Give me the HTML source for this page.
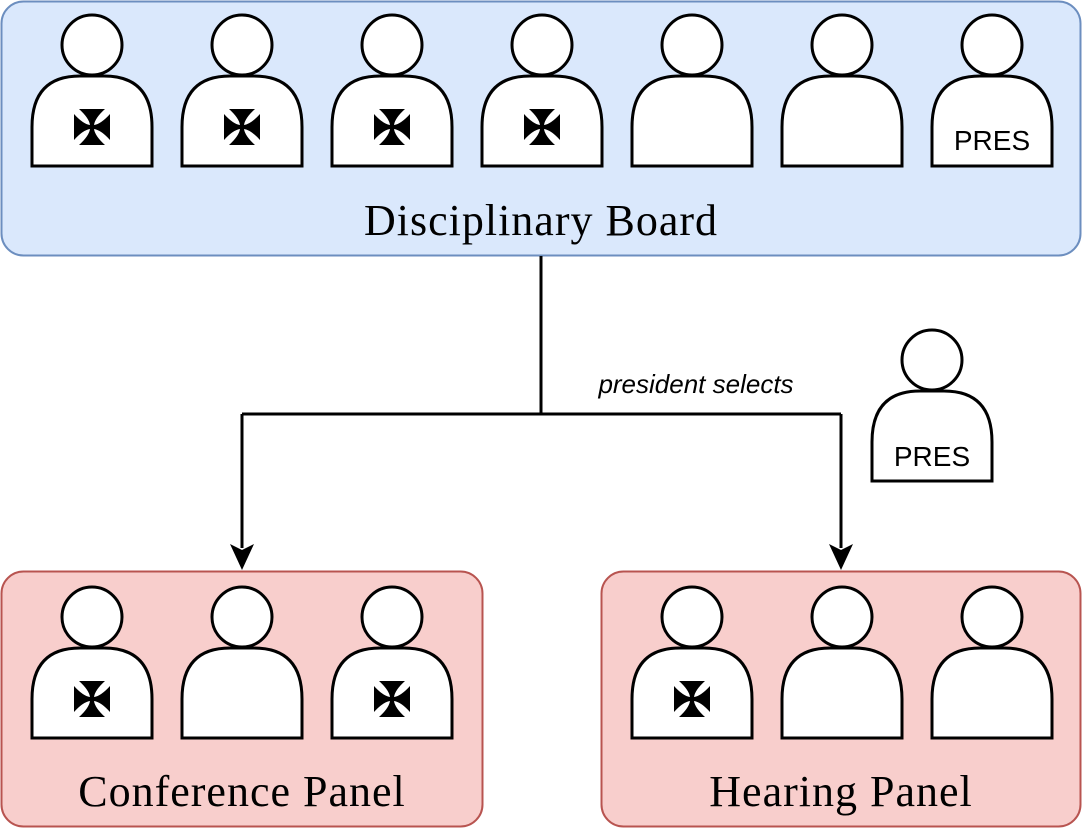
<!DOCTYPE html>
<html><head><meta charset="utf-8"><style>
html,body{margin:0;padding:0;background:#fff;}
svg{display:block;}
</style></head><body>
<svg width="1083" height="828" viewBox="0 0 1083 828" xmlns="http://www.w3.org/2000/svg">
<defs>
<g id="p">
<circle cx="0" cy="0" r="30" fill="#fff" stroke="#000" stroke-width="3"/>
<path d="M-60,121 V82 Q-60,31 -12,31 H12 Q60,31 60,82 V121 Z" fill="#fff" stroke="#000" stroke-width="3"/>
</g>
<g id="x">
<path d="M-13,-18 H13 Q3,-9 2,-2 Q9,-3 18,-13 V13 Q9,3 2,2 Q3,9 13,18 H-13 Q-3,9 -2,2 Q-9,3 -18,13 V-13 Q-9,-3 -2,-2 Q-3,-9 -13,-18 Z" fill="#000"/>
</g>
</defs>
<rect x="1.5" y="1.5" width="1079" height="254" rx="22" fill="#dae8fc" stroke="#6c8ebf" stroke-width="2"/>
<rect x="1.5" y="571.5" width="481" height="255" rx="22" fill="#f8cecc" stroke="#b85450" stroke-width="2"/>
<rect x="601.5" y="571.5" width="479" height="255" rx="22" fill="#f8cecc" stroke="#b85450" stroke-width="2"/>

<use href="#p" x="92" y="45"/><use href="#p" x="242" y="45"/><use href="#p" x="392" y="45"/><use href="#p" x="542" y="45"/>
<use href="#p" x="692" y="45"/><use href="#p" x="842" y="45"/><use href="#p" x="992" y="45"/>
<use href="#x" x="92" y="127"/><use href="#x" x="242" y="127"/><use href="#x" x="392" y="127"/><use href="#x" x="542" y="127"/>
<text x="992" y="150" font-family="Liberation Sans, sans-serif" font-size="28" text-anchor="middle">PRES</text>
<text x="541" y="235" font-family="Liberation Serif, serif" font-size="44" letter-spacing="1" text-anchor="middle">Disciplinary Board</text>

<use href="#p" x="932" y="360"/>
<text x="932" y="466" font-family="Liberation Sans, sans-serif" font-size="28" text-anchor="middle">PRES</text>

<path d="M541,256 V414 M242,414 H841 M242,414 V548 M841,414 V548" stroke="#000" stroke-width="3" fill="none"/>
<path d="M230,544 L242,570 L254,544 L242,550 Z" fill="#000"/>
<path d="M829,544 L841,570 L853,544 L841,550 Z" fill="#000"/>
<text x="696" y="393" font-family="Liberation Sans, sans-serif" font-style="italic" font-size="26" text-anchor="middle">president selects</text>

<use href="#p" x="92" y="617"/><use href="#p" x="242" y="617"/><use href="#p" x="392" y="617"/>
<use href="#p" x="692" y="617"/><use href="#p" x="842" y="617"/><use href="#p" x="992" y="617"/>
<use href="#x" x="92" y="699"/><use href="#x" x="392" y="699"/><use href="#x" x="692" y="699"/>
<text x="242" y="806" font-family="Liberation Serif, serif" font-size="44" letter-spacing="1" text-anchor="middle">Conference Panel</text>
<text x="841" y="806" font-family="Liberation Serif, serif" font-size="44" letter-spacing="1" text-anchor="middle">Hearing Panel</text>
</svg>
</body></html>
